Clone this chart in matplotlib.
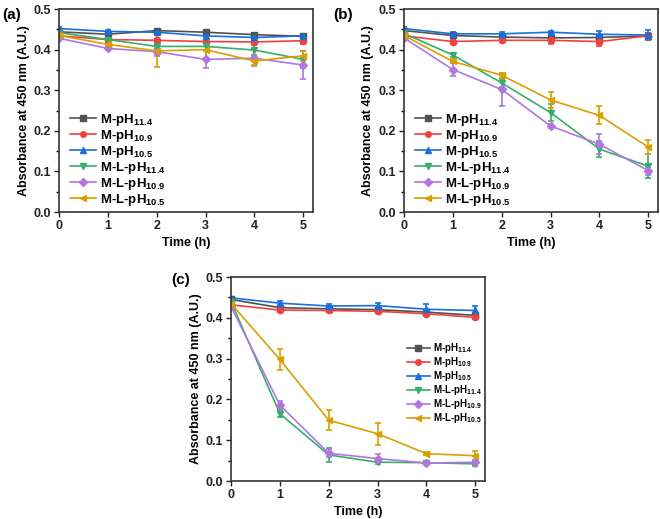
import matplotlib
matplotlib.use('Agg')
import matplotlib.pyplot as plt
from matplotlib.lines import Line2D
from matplotlib.ticker import MultipleLocator, FormatStrFormatter

plt.rcParams['font.family'] = ['Liberation Sans', 'DejaVu Sans']
plt.rcParams['font.weight'] = 'bold'
plt.rcParams['mathtext.fontset'] = 'custom'
plt.rcParams['mathtext.rm'] = 'Liberation Sans:bold'
plt.rcParams['mathtext.bf'] = 'Liberation Sans:bold'
plt.rcParams['mathtext.it'] = 'Liberation Sans:bold'

time_h = [0, 1, 2, 3, 4, 5]
labels = ['M-pH$_{11.4}$', 'M-pH$_{10.9}$', 'M-pH$_{10.5}$',
          'M-L-pH$_{11.4}$', 'M-L-pH$_{10.9}$', 'M-L-pH$_{10.5}$']
colors = ['#515151', '#F14040', '#1A6FDF', '#37AD6B', '#B177DE', '#D9A000']
markers = ['s', 'o', '^', 'v', 'D', '<']

# panel (a)
a_vals = [
    [0.444, 0.438, 0.447, 0.443, 0.437, 0.433],
    [0.434, 0.425, 0.423, 0.420, 0.419, 0.422],
    [0.452, 0.445, 0.443, 0.434, 0.430, 0.434],
    [0.442, 0.425, 0.408, 0.408, 0.399, 0.376],
    [0.428, 0.403, 0.395, 0.376, 0.379, 0.362],
    [0.435, 0.413, 0.397, 0.400, 0.372, 0.385],
]
a_err = [
    [0.003, 0.003, 0.004, 0.004, 0.004, 0.006],
    [0.003, 0.003, 0.004, 0.004, 0.004, 0.007],
    [0.003, 0.004, 0.003, 0.004, 0.004, 0.005],
    [0.003, 0.004, 0.007, 0.008, 0.012, 0.020],
    [0.003, 0.005, 0.010, 0.020, 0.020, 0.035],
    [0.003, 0.005, 0.040, 0.020, 0.010, 0.012],
]

# panel (b)
b_vals = [
    [0.447, 0.435, 0.431, 0.429, 0.430, 0.434],
    [0.434, 0.420, 0.423, 0.423, 0.420, 0.434],
    [0.452, 0.439, 0.439, 0.443, 0.438, 0.436],
    [0.440, 0.387, 0.318, 0.245, 0.155, 0.113],
    [0.429, 0.351, 0.302, 0.212, 0.167, 0.102],
    [0.435, 0.371, 0.337, 0.276, 0.238, 0.160],
]
b_err = [
    [0.003, 0.003, 0.004, 0.005, 0.006, 0.006],
    [0.003, 0.004, 0.005, 0.010, 0.012, 0.005],
    [0.003, 0.004, 0.004, 0.004, 0.008, 0.012],
    [0.003, 0.006, 0.010, 0.020, 0.020, 0.030],
    [0.003, 0.015, 0.040, 0.006, 0.025, 0.010],
    [0.003, 0.005, 0.006, 0.020, 0.022, 0.018],
]

# panel (c)
c_vals = [
    [0.445, 0.425, 0.422, 0.420, 0.414, 0.406],
    [0.432, 0.419, 0.418, 0.416, 0.410, 0.401],
    [0.449, 0.436, 0.429, 0.430, 0.421, 0.418],
    [0.440, 0.165, 0.064, 0.046, 0.045, 0.042],
    [0.428, 0.186, 0.068, 0.055, 0.044, 0.046],
    [0.435, 0.298, 0.149, 0.116, 0.067, 0.062],
]
c_err = [
    [0.003, 0.004, 0.004, 0.004, 0.005, 0.005],
    [0.003, 0.004, 0.004, 0.004, 0.005, 0.004],
    [0.003, 0.005, 0.006, 0.006, 0.012, 0.010],
    [0.003, 0.008, 0.018, 0.005, 0.004, 0.005],
    [0.003, 0.010, 0.010, 0.012, 0.003, 0.006],
    [0.003, 0.025, 0.025, 0.027, 0.003, 0.012],
]

fig = plt.figure(figsize=(6.6, 5.19), dpi=100)
ax_a = fig.add_axes([0.0894, 0.5915, 0.385, 0.391])
ax_b = fig.add_axes([0.612, 0.5915, 0.385, 0.391])
ax_c = fig.add_axes([0.35, 0.0732, 0.385, 0.393])

# legend entries drawn as line + marker only (no error bars)
handles = [Line2D([], [], color=colors[i], marker=markers[i], markersize=4, lw=1.2)
           for i in range(6)]

panels = [(ax_a, a_vals, a_err), (ax_b, b_vals, b_err), (ax_c, c_vals, c_err)]
for ax, vals, errs in panels:
    for i in range(6):
        ax.errorbar(time_h, vals[i], yerr=errs[i], color=colors[i], marker=markers[i],
                    markersize=4.5, lw=1.2, elinewidth=1.2, capsize=2.5, capthick=1.2)
    ax.set_xlim(0, 5.2)
    ax.set_ylim(0, 0.5)
    ax.yaxis.set_major_locator(MultipleLocator(0.1))
    ax.yaxis.set_minor_locator(MultipleLocator(0.05))
    ax.yaxis.set_major_formatter(FormatStrFormatter('%.1f'))
    ax.xaxis.set_major_locator(MultipleLocator(1))
    ax.tick_params(direction='out', length=3.5, width=1, labelsize=9, colors='#222222', pad=2)
    ax.tick_params(which='minor', direction='out', length=2, width=1)
    for s in ax.spines.values():
        s.set_linewidth(1.2)
        s.set_color('#333333')
    ax.set_xlabel('Time (h)', fontsize=9, fontweight='bold', labelpad=4)
    ax.set_ylabel('Absorbance at 450 nm (A.U.)', fontsize=9, fontweight='bold', labelpad=3)

fig.text(0.003, 0.972, '(a)', fontsize=11, fontweight='bold', va='center')
fig.text(0.505, 0.972, '(b)', fontsize=11, fontweight='bold', va='center')
fig.text(0.26, 0.46, '(c)', fontsize=11, fontweight='bold', va='center')

for ax in (ax_a, ax_b):
    ax.legend(handles, labels, loc='lower left', bbox_to_anchor=(-0.01, -0.045), frameon=False,
              fontsize=9.5, handlelength=2.0, handletextpad=0.3, labelspacing=0.0,
              borderpad=0.5)
ax_c.legend(handles, labels, loc='center right', bbox_to_anchor=(1.02, 0.48), frameon=False,
            fontsize=7, handlelength=2.4, handletextpad=0.25, labelspacing=0.0)

fig.savefig('out.png', dpi=100)
